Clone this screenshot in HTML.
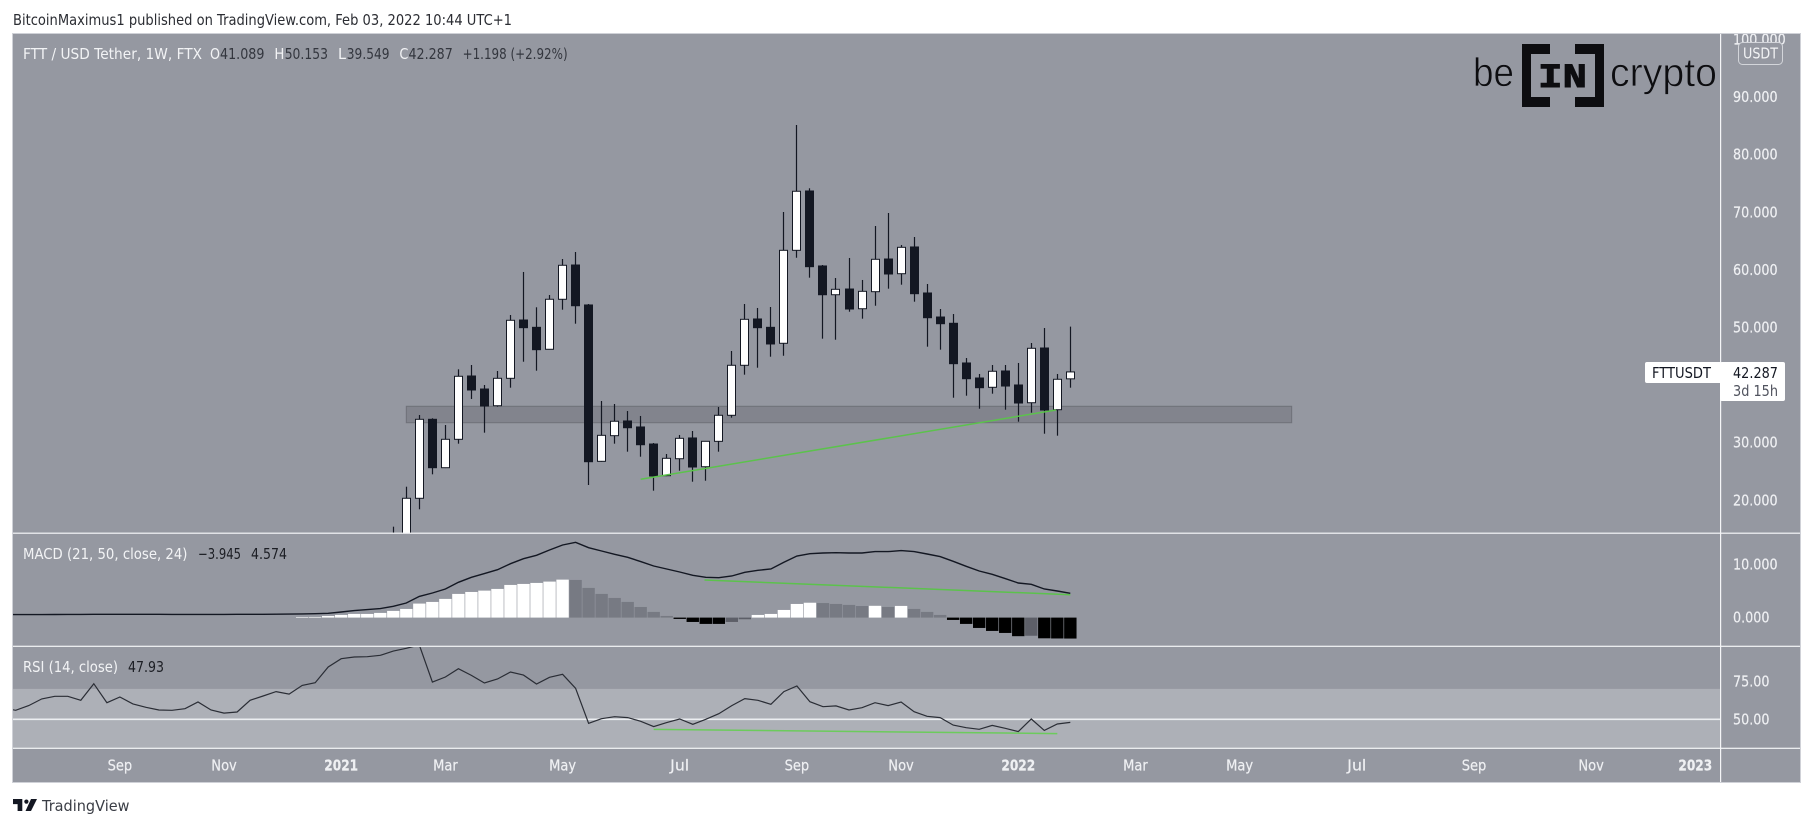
<!DOCTYPE html>
<html lang="en">
<head>
<meta charset="utf-8">
<title>FTT / USD Tether weekly chart</title>
<style>
html,body{margin:0;padding:0;background:#fff;width:1813px;height:827px;overflow:hidden}
svg{display:block}
text{font-family:"DejaVu Sans","Liberation Sans",sans-serif;font-size:15px}
</style>
</head>
<body>
<svg id="chart" xmlns="http://www.w3.org/2000/svg" width="1813" height="827" viewBox="0 0 1813 827">
  <defs>
    <clipPath id="clip-price"><rect x="13" y="34" width="1707" height="499"/></clipPath>
    <clipPath id="clip-macd"><rect x="13" y="534" width="1707" height="112"/></clipPath>
    <clipPath id="clip-rsi"><rect x="13" y="647" width="1707" height="101"/></clipPath>
    <clipPath id="clip-axis"><rect x="1721" y="34" width="79" height="499"/></clipPath>
  </defs>
  <text x="13" y="25" fill="#2b2d33" textLength="499" lengthAdjust="spacingAndGlyphs">BitcoinMaximus1 published on TradingView.com, Feb 03, 2022 10:44 UTC+1</text>
  <rect x="12.5" y="33.5" width="1788" height="749" fill="#9598a1" stroke="#cfd1d7" stroke-width="1"/>
  <g id="price-pane" clip-path="url(#clip-price)"></g>
  <g id="macd-pane" clip-path="url(#clip-macd)"></g>
  <g id="rsi-pane" clip-path="url(#clip-rsi)"></g>
  <rect x="13" y="532.6" width="1787" height="1.2" fill="#f4f5f7"/>
  <rect x="13" y="645.7" width="1787" height="1.2" fill="#f4f5f7"/>
  <rect x="13" y="747.7" width="1787" height="1.2" fill="#f4f5f7"/>
  <rect x="1720" y="34" width="1.2" height="748" fill="#f4f5f7"/>
  <g id="price-axis" clip-path="url(#clip-axis)"></g>
  <g id="macd-axis"></g>
  <g id="rsi-axis"></g>
  <g id="time-axis"></g>

  <g>
    <text x="23" y="59" fill="#f2f3f5" textLength="179" lengthAdjust="spacingAndGlyphs">FTT / USD Tether, 1W, FTX</text>
    <text x="210" y="59" fill="#f2f3f5" textLength="10" lengthAdjust="spacingAndGlyphs">O</text>
    <text x="220" y="59" fill="#33363e" textLength="44.5" lengthAdjust="spacingAndGlyphs">41.089</text>
    <text x="274.4" y="59" fill="#f2f3f5" textLength="10" lengthAdjust="spacingAndGlyphs">H</text>
    <text x="284.7" y="59" fill="#33363e" textLength="43.3" lengthAdjust="spacingAndGlyphs">50.153</text>
    <text x="338" y="59" fill="#f2f3f5" textLength="8" lengthAdjust="spacingAndGlyphs">L</text>
    <text x="346.8" y="59" fill="#33363e" textLength="42.7" lengthAdjust="spacingAndGlyphs">39.549</text>
    <text x="399.4" y="59" fill="#f2f3f5" textLength="9" lengthAdjust="spacingAndGlyphs">C</text>
    <text x="408.5" y="59" fill="#33363e" textLength="44.3" lengthAdjust="spacingAndGlyphs">42.287</text>
    <text x="462.6" y="59" fill="#33363e" textLength="105" lengthAdjust="spacingAndGlyphs">+1.198 (+2.92%)</text>
  </g>
  <g>
    <text x="23" y="559" fill="#f2f3f5" textLength="164.5" lengthAdjust="spacingAndGlyphs">MACD (21, 50, close, 24)</text>
    <text x="198" y="559" fill="#1c1e24" textLength="43" lengthAdjust="spacingAndGlyphs">−3.945</text>
    <text x="251" y="559" fill="#1c1e24" textLength="36" lengthAdjust="spacingAndGlyphs">4.574</text>
  </g>
  <g>
    <text x="23" y="672" fill="#f2f3f5" textLength="95" lengthAdjust="spacingAndGlyphs">RSI (14, close)</text>
    <text x="128" y="672" fill="#1c1e24" textLength="36" lengthAdjust="spacingAndGlyphs">47.93</text>
  </g>

  <g fill="#0d0d10">
    <text x="1473" y="86" style="font-family:'Liberation Sans',sans-serif;font-size:40px;paint-order:normal" stroke="#9598a1" stroke-width="0.7" textLength="41" lengthAdjust="spacingAndGlyphs">be</text>
    <path d="M1522 44h28v10h-19v43h19v10h-28z"/>
    <path d="M1575 44h29v63h-29v-10h20v-43h-20z"/>
    <text x="1538" y="87" stroke="#0d0d10" stroke-width="0.9" style="font-family:'Liberation Mono',monospace;font-size:34px;font-weight:700" textLength="49" lengthAdjust="spacingAndGlyphs">IN</text>
    <text x="1610" y="86" style="font-family:'Liberation Sans',sans-serif;font-size:40px" stroke="#9598a1" stroke-width="0.7" textLength="107" lengthAdjust="spacingAndGlyphs">crypto</text>
  </g>

  <rect x="1738.5" y="42.5" width="44" height="22" rx="4" fill="#9598a1" stroke="#d3d5da" stroke-width="1"/>
  <text x="1743" y="58.5" fill="#f2f3f5" textLength="35" lengthAdjust="spacingAndGlyphs">USDT</text>

  <g>
    <rect x="1645" y="362" width="77" height="21" rx="2" fill="#ffffff"/>
    <rect x="1720" y="362" width="65" height="39" rx="2" fill="#ffffff"/>
    <text x="1652" y="378" fill="#131722" textLength="59" lengthAdjust="spacingAndGlyphs">FTTUSDT</text>
    <text x="1733" y="378" fill="#131722" textLength="45" lengthAdjust="spacingAndGlyphs">42.287</text>
    <text x="1733" y="396" fill="#50535e" textLength="45" lengthAdjust="spacingAndGlyphs">3d 15h</text>
  </g>

  <g>
    <path fill="#131722" d="M13 799h9.3v12h-4.7v-6.9h-4.6zM37 799L31 811H25.5L31 799z"/>
    <circle cx="26.4" cy="801.6" r="2.1" fill="#131722"/>
    <text x="42" y="811" fill="#3a3d45" textLength="87.5" lengthAdjust="spacingAndGlyphs">TradingView</text>
  </g>
</svg>
<script>
// Candle values, in USDT, one per week starting at week index 0 on the price pane.
const candleOpen = [9.0,13.98,20.35,34.06,25.66,30.59,41.58,39.32,36.42,41.18,51.30,50.03,46.22,54.90,60.85,53.91,26.77,31.22,33.77,32.73,29.77,24.27,27.22,30.82,25.83,30.24,34.76,43.44,51.48,50.03,47.26,63.40,73.70,60.68,55.69,56.68,53.26,56.22,61.89,59.34,63.98,55.99,51.82,50.73,43.84,41.23,39.62,42.45,40.02,36.94,46.44,35.73,41.089];
const candleHigh = [15.42,22.36,34.81,34.24,33.07,42.74,43.49,40.02,42.45,52.17,59.64,53.51,55.64,61.89,63.11,54.08,37.24,36.72,35.50,34.64,29.95,28.04,31.34,32.03,30.30,36.20,45.92,54.08,53.39,53.56,70.05,85.16,74.17,60.85,58.59,62.07,58.25,67.62,69.88,64.32,65.71,57.55,53.21,52.34,44.70,41.93,43.49,43.49,43.84,47.31,49.91,41.93,50.153];
const candleLow = [8.0,13.0,18.44,24.51,25.60,29.83,37.59,31.74,36.25,39.55,44.06,42.50,46.20,53.09,50.66,22.66,26.70,29.83,28.44,27.57,21.67,24.20,25.14,23.23,23.40,28.44,34.34,41.81,43.02,44.93,45.10,62.12,58.65,48.06,47.88,52.74,51.53,53.78,56.74,57.43,54.48,46.67,46.15,37.81,38.16,35.90,38.51,35.73,33.65,35.21,31.56,31.22,39.549];
const candleClose = [13.98,20.35,34.06,25.66,30.59,41.53,39.15,36.37,41.18,51.25,49.97,46.15,54.90,60.80,53.78,26.70,31.28,33.72,32.60,29.65,24.22,27.29,30.76,25.78,30.24,34.76,43.44,51.42,49.97,47.14,63.40,73.65,60.56,55.69,56.63,53.21,56.28,61.84,59.29,63.92,55.87,51.70,50.66,43.72,41.11,39.55,42.40,39.84,36.89,46.39,35.68,41.01,42.287];
const candleStart = 0;

// MACD line value per week, first entry is week index -30.
const macdLine = [0.56,0.56,0.56,0.57,0.58,0.60,0.61,0.62,0.62,0.62,0.62,0.62,0.62,0.61,0.61,0.61,0.61,0.61,0.62,0.62,0.63,0.64,0.66,0.69,0.74,0.81,1.06,1.31,1.50,1.69,2.13,2.75,4.00,4.64,5.39,6.65,7.59,8.28,9.03,10.16,11.10,11.73,12.73,13.68,14.18,13.17,12.55,11.92,11.35,10.54,9.72,9.16,8.59,7.96,7.59,7.52,7.84,8.53,8.90,9.16,10.41,11.60,12.04,12.17,12.23,12.17,12.17,12.42,12.42,12.61,12.42,11.98,11.48,10.60,9.66,8.78,8.15,7.34,6.52,6.27,5.39,5.01,4.574];
const macdStart = -30;

// MACD histogram value per week, first entry is week index -7.
const macdHistogram = [0.06,0.12,0.31,0.50,0.69,0.69,0.88,1.26,1.63,2.64,2.95,3.52,4.46,4.83,5.08,5.40,6.15,6.34,6.53,6.78,7.15,7.09,5.59,4.46,3.70,2.95,2.00,1.07,0.31,-0.25,-0.82,-1.19,-1.19,-0.82,-0.31,0.50,0.69,1.44,2.57,2.80,2.74,2.57,2.39,2.18,2.22,2.00,2.20,1.63,1.07,0.50,-0.44,-1.19,-1.95,-2.51,-2.89,-3.50,-3.42,-3.90,-3.93,-3.945];
const histogramStart = -7;

// RSI value per week, first entry is week index -30.
const rsiLine = [57.5,55.9,59.0,63.4,65.1,65.1,62.5,73.4,60.9,64.7,60.1,57.9,56.1,55.9,57.0,61.4,56.1,54.1,54.8,62.5,65.3,68.2,66.6,72.3,74.1,84.4,89.9,91.0,91.2,92.1,94.9,96.7,98.9,74.5,77.8,83.3,78.9,73.9,76.5,81.1,79.1,73.2,77.6,79.6,70.4,47.35,50.4,51.7,51.1,48.7,45.2,47.8,50.2,46.7,50.0,53.7,59.0,63.6,62.5,59.9,68.2,71.9,61.6,58.3,58.8,56.1,57.6,60.9,59.0,61.4,55.0,52.0,51.1,46.2,44.5,43.4,46.0,44.1,41.9,50.2,42.7,46.9,47.93];
const rsiStart = -30;

// Support zone and drawn trendlines: week index and value.
const zoneWeeks = [1, 69];
const zoneValues = [36.32, 33.47];
const priceTrendWeeks = [19, 50.9];
const priceTrendValues = [23.65, 35.68];
const macdTrendWeeks = [23.9, 52];
const macdTrendValues = [7.08, 4.31];
const rsiTrendWeeks = [20, 51];
const rsiTrendValues = [43.4, 40.6];

// Tick labels.
const priceTicks = [100, 90, 80, 70, 60, 50, 30, 20];
const macdTicks = [10, 0];
const rsiTicks = [75, 50];
const rsiBandLimits = [70, 30];
const timeTickWeeks = [-21, -13, -4, 4, 13, 22, 31, 39, 48, 57, 65, 74, 83, 92, 100];
const timeTickLabels = ["Sep","Nov","2021","Mar","May","Jul","Sep","Nov","2022","Mar","May","Jul","Sep","Nov","2023"];

const NS = "http://www.w3.org/2000/svg";
const xOf = week => 393.3 + 13.02 * week;
const yPrice = v => 615.5 - 5.76 * v;
const yMacd = v => 617.6 - 5.31 * v;
const yRsi = v => 719.3 - 1.52 * (v - 50);
const crisp = x => Math.round(x - 0.5) + 0.5;

function make(tag, attrs, parent) {
  const el = document.createElementNS(NS, tag);
  for (const k in attrs) el.setAttribute(k, attrs[k]);
  parent.appendChild(el);
  return el;
}
const pricePane = document.getElementById("price-pane");
const macdPane = document.getElementById("macd-pane");
const rsiPane = document.getElementById("rsi-pane");

function linePath(values, start, yFn) {
  return values.map((v, k) => (k ? "L" : "M") + xOf(k + start).toFixed(1) + " " + yFn(v).toFixed(1)).join("");
}

// Support zone
const zone = make("rect", {
  x: xOf(zoneWeeks[0]), y: yPrice(zoneValues[0]),
  width: xOf(zoneWeeks[1]) - xOf(zoneWeeks[0]),
  height: yPrice(zoneValues[1]) - yPrice(zoneValues[0]),
  fill: "#82848d", stroke: "#6f7179", "stroke-width": 1
}, pricePane);



// Candles
candleClose.forEach((close, k) => {
  const cx = crisp(xOf(k + candleStart));
  const open = candleOpen[k];
  const up = close >= open;
  const wick = make("line", {
    x1: cx, x2: cx, y1: yPrice(candleHigh[k]), y2: yPrice(candleLow[k]),
    stroke: "#131722", "stroke-width": 1.2
  }, pricePane);
  
  
  const top = yPrice(Math.max(open, close));
  const bottom = yPrice(Math.min(open, close));
  const body = make("rect", {
    x: cx - 4, y: top, width: 8, height: Math.max(bottom - top, 1),
    fill: up ? "#ffffff" : "#131722", stroke: "#131722", "stroke-width": 1
  }, pricePane);
  
  
});

// Trendline on price
const priceTrend = make("line", {
  x1: xOf(priceTrendWeeks[0]), y1: yPrice(priceTrendValues[0]),
  x2: xOf(priceTrendWeeks[1]), y2: yPrice(priceTrendValues[1]),
  stroke: "#5cc24c", "stroke-width": 1.5
}, pricePane);



// MACD histogram
macdHistogram.forEach((v, k) => {
  const prev = k ? macdHistogram[k - 1] : 0;
  let fill;
  if (v >= 0) fill = v >= prev ? "#ffffff" : "#777a83";
  else fill = v <= prev ? "#000000" : "#5d5f68";
  const y0 = yMacd(0), y1 = yMacd(v);
  const bar = make("rect", {
    x: xOf(k + histogramStart) - 6.2, y: Math.min(y0, y1),
    width: 12.4, height: Math.max(Math.abs(y1 - y0), 0.6), fill: fill
  }, macdPane);
  
  
});
const macdPath = make("path", {
  d: linePath(macdLine, macdStart, yMacd), fill: "none", stroke: "#131722", "stroke-width": 1.4
}, macdPane);


const macdTrend = make("line", {
  x1: xOf(macdTrendWeeks[0]), y1: yMacd(macdTrendValues[0]),
  x2: xOf(macdTrendWeeks[1]), y2: yMacd(macdTrendValues[1]),
  stroke: "#5cc24c", "stroke-width": 1.5
}, macdPane);



// RSI band, midline, line
const band = make("rect", {
  x: 13, y: yRsi(rsiBandLimits[0]), width: 1707,
  height: yRsi(rsiBandLimits[1]) - yRsi(rsiBandLimits[0]), fill: "#adb0b7"
}, rsiPane);


const mid = make("line", {
  x1: 13, x2: 1720, y1: yRsi(50), y2: yRsi(50), stroke: "#eceef1", "stroke-width": 1.6
}, rsiPane);


const rsiPath = make("path", {
  d: linePath(rsiLine, rsiStart, yRsi), fill: "none", stroke: "#2a2d35", "stroke-width": 1.2
}, rsiPane);


const rsiTrend = make("line", {
  x1: xOf(rsiTrendWeeks[0]), y1: yRsi(rsiTrendValues[0]),
  x2: xOf(rsiTrendWeeks[1]), y2: yRsi(rsiTrendValues[1]),
  stroke: "#6ccb5c", "stroke-width": 1.5
}, rsiPane);



// Axis labels
function axisLabel(parent, str, x, y, bold, squeeze) {
  const t = make("text", { x: x, y: y, fill: "#eff0f3" }, parent);
  if (bold) t.setAttribute("font-weight", "700");
  t.setAttribute("stroke", "#eff0f3");
  t.setAttribute("stroke-width", "0.2");
  t.textContent = str;
  const natural = t.getComputedTextLength();
  const w = Math.max(natural * squeeze, 19);
  t.setAttribute("textLength", w.toFixed(1));
  t.setAttribute("lengthAdjust", "spacingAndGlyphs");
  return { el: t, width: w };
}
const priceAxis = document.getElementById("price-axis");
priceTicks.forEach(v => {
  const t = axisLabel(priceAxis, v.toFixed(3), 1733, yPrice(v) + 5, false, 0.85).el;
  
  
});
const macdAxis = document.getElementById("macd-axis");
macdTicks.forEach(v => {
  const t = axisLabel(macdAxis, v.toFixed(3), 1733, yMacd(v) + 5, false, 0.85).el;
  
  
});
const rsiAxis = document.getElementById("rsi-axis");
rsiTicks.forEach(v => {
  const t = axisLabel(rsiAxis, v.toFixed(2), 1733, yRsi(v) + 5, false, 0.85).el;
  
  
});
const timeAxis = document.getElementById("time-axis");
timeTickLabels.forEach((s, k) => {
  const isYear = /^\d/.test(s);
  const made = axisLabel(timeAxis, s, 0, 770.5, isYear, isYear ? 0.81 : 0.87);
  const t = made.el;
  t.setAttribute("x", (xOf(timeTickWeeks[k]) - made.width / 2).toFixed(1));
  
  
});
</script>
</body>
</html>
